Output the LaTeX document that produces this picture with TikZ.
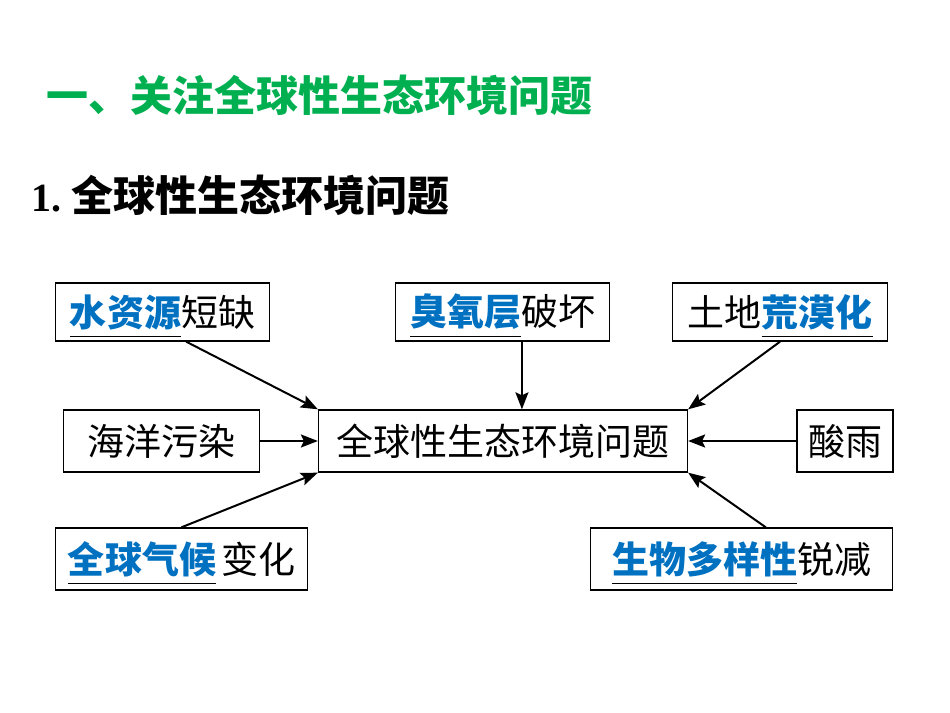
\documentclass[tikz,border=0pt]{standalone}
\usepackage{fontspec}
\setmainfont{Liberation Serif}
\newfontfamily\cjk{Noto Sans CJK SC}
\usetikzlibrary{arrows.meta,calc}

\definecolor{qgreen}{HTML}{00B050}
\definecolor{qblue}{HTML}{0070C0}

% blue answer with a line under it
\newcommand\blank[1]{\setbox0=\hbox{\textcolor{qblue}{\bfseries #1}}%
  \rlap{\raisebox{-0.3em}[0pt][0pt]{\rule{\wd0}{1.3bp}}}\box0}

\tikzset{
  box/.style={draw, line width=1.6bp, inner sep=0pt,
    font=\cjk\fontsize{37bp}{40bp}\selectfont},
  arr/.style={line width=2bp, -{Stealth[length=17bp,width=13bp,inset=3bp]}}
}

\begin{document}
\begin{tikzpicture}[x=1bp,y=-1bp]

    \useasboundingbox (0,0) rectangle (950,713);

    % headings
    \node[anchor=west, inner sep=0pt, text=qgreen,
      font=\cjk\bfseries\fontsize{42bp}{46bp}\selectfont] (title) at (46,95) {一、关注全球性生态环境问题};
    \node[anchor=west, inner sep=0pt] (sub) at (31,195)
      {{\bfseries\fontsize{40bp}{44bp}\selectfont 1.}\hspace{10bp}{\cjk\bfseries\fontsize{42bp}{46bp}\selectfont 全球性生态环境问题}};

    % boxes
    \node[box, minimum width=215, minimum height=58] (water) at (162.5,312) {\blank{水资源}短缺};
    \node[box, minimum width=215, minimum height=58] (ozone) at (502.5,312) {\blank{臭氧层}破坏};
    \node[box, minimum width=216, minimum height=58] (land) at (780,312) {土地\blank{荒漠化}};

    \node[box, minimum width=197, minimum height=62] (sea) at (161.5,441) {海洋污染};
    \node[box, minimum width=370, minimum height=62] (main) at (503,441) {全球性生态环境问题};
    \node[box, minimum width=96, minimum height=62] (rain) at (845,441) {酸雨};

    \node[box, minimum width=253, minimum height=62] (climate) at (181.5,559) {\blank{全球气候}\hspace{5bp}变化};
    \node[box, minimum width=303, minimum height=62] (bio) at (741.5,559) {\blank{生物多样性}锐减};

    % start points
    \coordinate (W_S) at ($(water.south west)!0.61!(water.south east)$);
    \coordinate (O_S) at ($(ozone.south west)!0.59!(ozone.south east)$);
    \coordinate (B_N) at ($(bio.north west)!0.58!(bio.north east)$);

    % arrows
    \draw[arr] (W_S) -- (main.north west);
    \draw[arr] (O_S) -- (O_S |- main.north);
    \draw[arr] (land.south) -- (main.north east);
    \draw[arr] (sea.east) -- (main.west);
    \draw[arr] (rain.west) -- (main.east);
    \draw[arr] (climate.north) -- (main.south west);
    \draw[arr] (B_N) -- (main.south east);

\end{tikzpicture}
\end{document}
